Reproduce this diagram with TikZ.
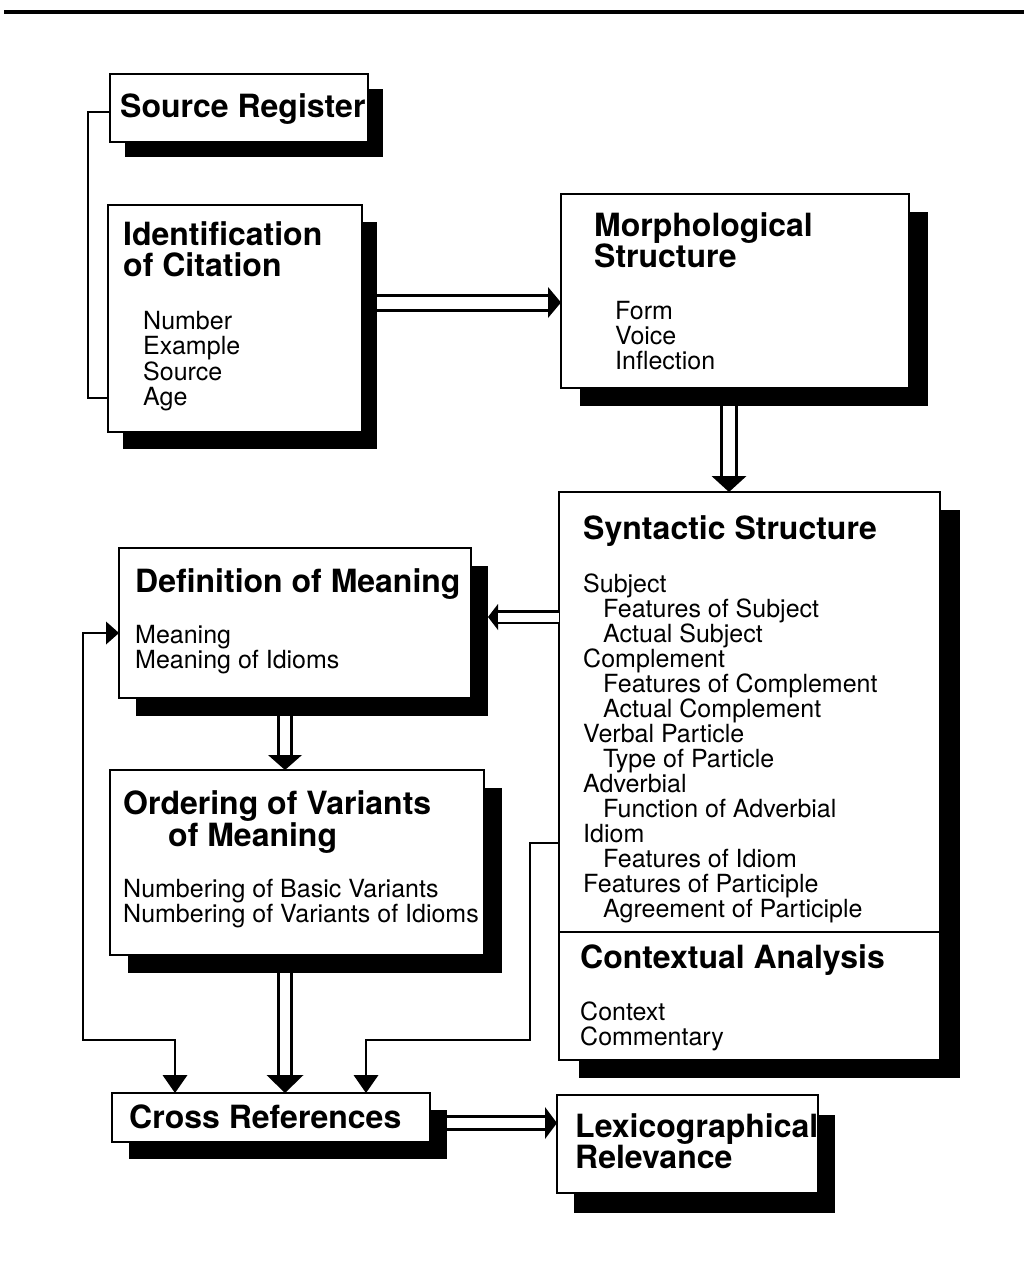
\documentclass[tikz,border=0pt]{standalone}
\usepackage{fontspec}
\setmainfont{TeX Gyre Heros}
\usetikzlibrary{arrows.meta,shadows,calc}
\begin{document}
\begin{tikzpicture}[x=1pt,y=-1pt,
  box/.style={draw, line width=2.4pt, fill=white, inner sep=0pt, outer sep=0pt, anchor=north west},
  sh/.style 2 args={drop shadow={shadow xshift=#1pt, shadow yshift=-#2pt, fill=black, opacity=1}},
  ttl/.style={font=\fontsize{32}{32}\selectfont\bfseries, anchor=base west, inner sep=0pt},
  bd/.style={font=\fontsize{25}{25}\selectfont, anchor=base west, inner sep=0pt},
  thinline/.style={line width=2.2pt},
  sarrow/.style={line width=2.8pt},
  dbl/.style n args={4}{line width=#1pt, -{Triangle[length=#3pt,width=#4pt,line width=0pt]},
     postaction={draw=white, line width=#2pt, -, shorten >=#3pt}},
]
\useasboundingbox (0,0) rectangle (1024,1267);
\draw[line width=4pt] (4,12) -- (1024,12);

% boxes
\node[box, sh={15}{15}, minimum width=258pt, minimum height=68pt] (src) at (110,74) {};
\node[box, sh={15}{17}, minimum width=254pt, minimum height=227pt] (ident) at (108,205) {};
\node[box, sh={19}{18}, minimum width=348pt, minimum height=194pt] (morph) at (561,194) {};
\node[box, sh={20}{18}, minimum width=381pt, minimum height=568pt] (syn) at (559,492) {};
\node[box, sh={17}{18}, minimum width=352pt, minimum height=150pt] (def) at (119,548) {};
\node[box, sh={18}{18}, minimum width=374pt, minimum height=185pt] (ord) at (110,770) {};
\node[box, sh={17}{17}, minimum width=318pt, minimum height=49pt] (cross) at (112,1093) {};
\node[box, sh={17}{20}, minimum width=261pt, minimum height=98pt] (lex) at (557,1095) {};

\draw[line width=2.4pt] (syn.west |- 0,932) -- (syn.east |- 0,932);

% texts
\node[ttl] (srcT) at (120,117) {Source Register};
\node[ttl] (idT1) at (123,245) {Identification};
\node[ttl] (idT2) at (123,276) {of Citation};
\node[bd] (id1) at (143,329.5) {Number};
\node[bd] (id2) at (143,354.8) {Example};
\node[bd] (id3) at (143,380) {Source};
\node[bd] (id4) at (143,405.5) {Age};

\node[ttl] (moT1) at (594,236) {Morphological};
\node[ttl] (moT2) at (594,267) {Structure};
\node[bd] (mo1) at (615,319) {Form};
\node[bd] (mo2) at (615,344) {Voice};
\node[bd] (mo3) at (615,369) {Inflection};

\node[ttl] (syT) at (583,539) {Syntactic Structure};
\node[bd] (sy1) at (583,592) {Subject};
\node[bd] (sy2) at (603,617) {Features of Subject};
\node[bd] (sy3) at (603,642) {Actual Subject};
\node[bd] (sy4) at (583,667) {Complement};
\node[bd] (sy5) at (603,692) {Features of Complement};
\node[bd] (sy6) at (603,717) {Actual Complement};
\node[bd] (sy7) at (583,742) {Verbal Particle};
\node[bd] (sy8) at (603,767) {Type of Particle};
\node[bd] (sy9) at (583,792) {Adverbial};
\node[bd] (sy10) at (603,817) {Function of Adverbial};
\node[bd] (sy11) at (583,842) {Idiom};
\node[bd] (sy12) at (603,867) {Features of Idiom};
\node[bd] (sy13) at (583,892) {Features of Participle};
\node[bd] (sy14) at (603,917) {Agreement of Participle};

\node[ttl] (coT) at (580,968) {Contextual Analysis};
\node[bd] (co1) at (580,1020) {Context};
\node[bd] (co2) at (580,1045) {Commentary};

\node[ttl] (deT) at (135,592) {Definition of Meaning};
\node[bd] (de1) at (135,643) {Meaning};
\node[bd] (de2) at (135,668) {Meaning of Idioms};

\node[ttl] (orT1) at (123,814) {Ordering of Variants};
\node[ttl] (orT2) at (168,846) {of Meaning};
\node[bd] (or1) at (123,897) {Numbering of Basic Variants};
\node[bd] (or2) at (123,922) {Numbering of Variants of Idioms};

\node[ttl] (crT) at (129,1128) {Cross References};
\node[ttl] (lxT1) at (575,1137) {Lexicographical};
\node[ttl] (lxT2) at (575,1168) {Relevance};

% connectors
\draw[thinline] (src.west |- 0,112) -| (88,398) -- (ident.west |- 0,398);

\draw[dbl={18}{12}{13}{31}, shorten <=15pt] (ident.east |- 0,302.5) -- (morph.west |- 0,302.5);
\draw[dbl={18}{12}{16}{35}, shorten <=18pt] (morph.south -| 729,0) -- (syn.north -| 729,0);
\draw[dbl={14}{9}{10}{26}] (syn.west |- 0,617) -- ($(def.east |- 0,617)+(17,0)$);
\draw[dbl={16}{10}{15}{34}, shorten <=18pt] (def.south -| 285,0) -- (ord.north -| 285,0);
\draw[dbl={16}{10}{18}{37}, shorten <=18pt] (ord.south -| 285,0) -- (cross.north -| 285,0);
\draw[dbl={16}{10}{12}{32}, shorten <=17pt] (cross.east |- 0,1123) -- (lex.west |- 0,1123);

\draw[sarrow, {Triangle[length=13pt,width=23pt,line width=0pt]}-{Triangle[length=18pt,width=25pt,line width=0pt]}]
  (def.west |- 0,633) -| (83,1040) -| (cross.north -| 175,0);
\draw[sarrow, -{Triangle[length=18pt,width=25pt,line width=0pt]}]
  (syn.west |- 0,843) -| (530,1040) -| (cross.north -| 366,0);
\end{tikzpicture}
\end{document}
